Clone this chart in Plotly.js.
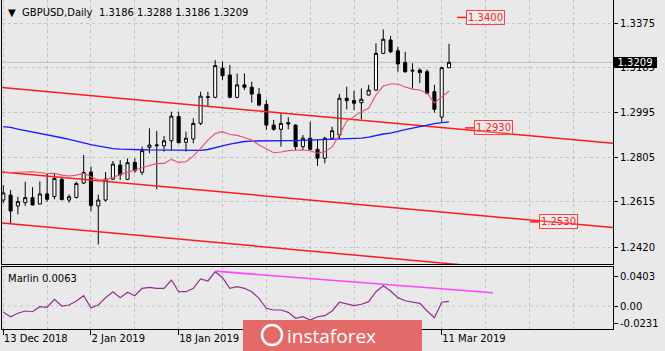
<!DOCTYPE html>
<html><head><meta charset="utf-8">
<script src="https://cdn.plot.ly/plotly-3.0.1.min.js"></script>
<style>html,body{margin:0;padding:0;background:#e9e9e9;}#chart{width:665px;height:351px;}</style>
</head><body><div id="chart"></div>
<script>
// ---------- DATA ----------
const symbol = 'GBPUSD,Daily';
const dates = ['2018-12-13','2018-12-14','2018-12-17','2018-12-18','2018-12-19','2018-12-20','2018-12-21','2018-12-24','2018-12-26','2018-12-27','2018-12-28','2018-12-31',
'2019-01-02','2019-01-03','2019-01-04','2019-01-07','2019-01-08','2019-01-09','2019-01-10','2019-01-11','2019-01-14','2019-01-15','2019-01-16','2019-01-17','2019-01-18',
'2019-01-21','2019-01-22','2019-01-23','2019-01-24','2019-01-25','2019-01-28','2019-01-29','2019-01-30','2019-01-31','2019-02-01',
'2019-02-04','2019-02-05','2019-02-06','2019-02-07','2019-02-08','2019-02-11','2019-02-12','2019-02-13','2019-02-14','2019-02-15',
'2019-02-18','2019-02-19','2019-02-20','2019-02-21','2019-02-22','2019-02-25','2019-02-26','2019-02-27','2019-02-28','2019-03-01',
'2019-03-04','2019-03-05','2019-03-06','2019-03-07','2019-03-08','2019-03-11','2019-03-12'];
const open  = [1.2623,1.2644,1.2598,1.2612,1.2633,1.2606,1.2649,1.2638,1.2711,1.2623,1.2634,1.2695,
1.2742,1.2598,1.2623,1.2712,1.2772,1.2711,1.2783,1.2741,1.2847,1.2854,1.2854,1.2875,1.2978,
1.2869,1.2883,1.2949,1.3059,1.3060,1.3184,1.3155,1.3060,1.3113,1.3103,
1.3073,1.3030,1.2942,1.2924,1.2952,1.2942,1.2850,1.2886,1.2839,1.2801,
1.2886,1.2900,1.3056,1.3046,1.3037,1.3070,1.3091,1.3247,1.3304,1.3258,
1.3208,1.3176,1.3176,1.3169,1.3084,1.2976,1.3186];
const high  = [1.2687,1.2666,1.2637,1.2701,1.2678,1.2702,1.2734,1.2734,1.2721,1.2647,1.2701,1.2815,
1.2765,1.2646,1.2742,1.2789,1.2793,1.2800,1.2800,1.2850,1.2928,1.2917,1.2895,1.2999,1.2999,
1.2914,1.2971,1.3084,1.3084,1.3219,1.3212,1.3198,1.3161,1.3162,1.3127,
1.3100,1.3049,1.2964,1.2992,1.2975,1.2945,1.2900,1.2956,1.2878,1.2892,
1.2935,1.3074,1.3105,1.3088,1.3098,1.3113,1.3290,1.3349,1.3321,1.3275,
1.3254,1.3205,1.3184,1.3179,1.3113,1.3190,1.3288];
const low   = [1.2610,1.2525,1.2562,1.2598,1.2600,1.2604,1.2616,1.2626,1.2621,1.2612,1.2630,1.2691,
1.2576,1.2434,1.2616,1.2708,1.2708,1.2708,1.2739,1.2729,1.2822,1.2669,1.2829,1.2836,1.2864,
1.2829,1.2864,1.2942,1.3023,1.3056,1.3134,1.3056,1.3056,1.3091,1.3037,
1.3022,1.2921,1.2918,1.2850,1.2924,1.2836,1.2836,1.2832,1.2768,1.2779,
1.2883,1.2883,1.3009,1.3006,1.2967,1.3068,1.3087,1.3244,1.3248,1.3169,
1.3164,1.3098,1.3120,1.3074,1.2995,1.2956,1.3186];
const close = [1.2653,1.2576,1.2616,1.2633,1.2602,1.2649,1.2626,1.2715,1.2625,1.2637,1.2693,1.2740,
1.2600,1.2623,1.2712,1.2776,1.2730,1.2782,1.2748,1.2833,1.2857,1.2857,1.2875,1.2980,1.2867,
1.2886,1.2949,1.3065,1.3062,1.3195,1.3152,1.3060,1.3113,1.3103,1.3074,
1.3027,1.2942,1.2924,1.2949,1.2947,1.2850,1.2886,1.2839,1.2801,1.2886,
1.2918,1.3056,1.3046,1.3035,1.3052,1.3091,1.3247,1.3307,1.3254,1.3202,
1.3169,1.3172,1.3165,1.3077,1.3009,1.3186,1.3209];
// moving averages
const maFast = [1.2739,1.2740,1.2741,1.2742,1.2743,1.2740,1.2736,1.2737,1.2729,1.2725,1.2729,1.2737,
1.2722,1.2708,1.2710,1.2719,1.2732,1.2742,1.2751,1.2761,1.2770,1.2778,1.2779,1.2796,1.2783,
1.2786,1.2810,1.2843,1.2878,1.2906,1.2914,1.2902,1.2898,1.2889,1.2878,
1.2857,1.2842,1.2824,1.2827,1.2833,1.2835,1.2836,1.2833,1.2822,1.2829,
1.2849,1.2900,1.2959,1.2978,1.2999,1.3013,1.3070,1.3108,1.3117,1.3117,
1.3104,1.3095,1.3091,1.3078,1.3036,1.3061,1.3087];
const maSlow = [1.2935,1.2932,1.2925,1.2919,1.2915,1.2908,1.2902,1.2895,1.2888,1.2881,1.2872,1.2866,
1.2859,1.2853,1.2846,1.2842,1.2840,1.2840,1.2839,1.2837,1.2836,1.2836,1.2835,1.2834,1.2833,
1.2833,1.2833,1.2834,1.2838,1.2844,1.2853,1.2861,1.2868,1.2872,1.2874,
1.2875,1.2876,1.2876,1.2876,1.2876,1.2876,1.2877,1.2877,1.2878,1.2878,
1.2879,1.2880,1.2881,1.2884,1.2886,1.2891,1.2898,1.2904,1.2908,1.2917,
1.2923,1.2929,1.2936,1.2942,1.2948,1.2952,1.2956];
const marlin = [-0.0085,-0.0144,-0.0098,-0.0067,-0.0077,-0.0009,-0.0017,0.0090,0.0000,0.0013,0.0067,0.0138,
-0.0023,0.0013,0.0112,0.0192,0.0112,0.0184,0.0138,0.0238,0.0251,0.0238,0.0238,0.0349,0.0192,
0.0192,0.0238,0.0363,0.0336,0.0461,0.0380,0.0238,0.0259,0.0238,0.0192,
0.0103,-0.0031,-0.0054,-0.0054,-0.0085,-0.0165,-0.0144,-0.0188,-0.0144,-0.0130,
-0.0067,0.0050,0.0023,0.0004,0.0023,0.0058,0.0192,0.0273,0.0201,0.0112,
0.0071,0.0058,0.0036,-0.0067,-0.0157,0.0050,0.0063];
// trend channel: price at anchor bars [0, 60]
const channelAnchorBars = [0, 60];
const channelUpper  = [1.3101, 1.2931];
const channelMiddle = [1.2742, 1.2572];
const channelLower  = [1.2525, 1.2355];
// horizontal price marks
const levelPrices = [1.3400, 1.2930, 1.2530];
// Marlin divergence line
const marlinTrendBars = [29, 67];
const marlinTrendValues = [0.0468, 0.0178];
// axis ticks
const priceTicks = [1.3375, 1.3185, 1.2995, 1.2805, 1.2615, 1.2420];
const marlinTicks = [0.0403, 0, -0.0231];
const marlinTickText = ['0.0403', '0.00', '-0.0231'];
const dateLabelDates = ['2018-12-13', '2019-01-02', '2019-01-18', '2019-03-11'];

// ---------- BUILD ----------
const N = dates.length;
const idx = dates.map((d, i) => i);
const XR = [-0.178, 83.44];
const gridTicks = []; for (let k = 0; k <= 84; k += 6) gridTicks.push(k);
const MON = ['Jan','Feb','Mar','Apr','May','Jun','Jul','Aug','Sep','Oct','Nov','Dec'];
function fmtDate(s){ const d = new Date(s + 'T00:00:00Z'); return d.getUTCDate() + ' ' + MON[d.getUTCMonth()] + ' ' + d.getUTCFullYear(); }
const dateTickVals = dateLabelDates.map(s => dates.indexOf(s));
const dateTickText = dateLabelDates.map(fmtDate);

function ray(p){ // extend channel line across the whole visible range
  const s = (p[1] - p[0]) / (channelAnchorBars[1] - channelAnchorBars[0]);
  const xs = [XR[0] - 1, XR[1] + 1];
  return {x: xs, y: xs.map(x => p[0] + s * (x - channelAnchorBars[0]))};
}
const RED = '#ff1a1a';
const traces = [];
[channelUpper, channelMiddle, channelLower].forEach(c => {
  const r = ray(c);
  traces.push({type:'scatter', mode:'lines', x:r.x, y:r.y, xaxis:'x', yaxis:'y', line:{color:RED, width:1.5}, hoverinfo:'skip'});
});
traces.push({type:'scatter', mode:'lines', x:idx, y:maSlow, xaxis:'x', yaxis:'y', line:{color:'#1a1aff', width:1.3}, hoverinfo:'skip'});
traces.push({type:'scatter', mode:'lines', x:idx, y:maFast, xaxis:'x', yaxis:'y', line:{color:'#e8506a', width:1.1}, hoverinfo:'skip'});
traces.push({type:'candlestick', x:idx, open:open, high:high, low:low, close:close, xaxis:'x', yaxis:'y',
  increasing:{line:{color:'#000', width:1}, fillcolor:'#ffffff'},
  decreasing:{line:{color:'#000', width:1}, fillcolor:'#000000'},
  whiskerwidth:0, hoverinfo:'skip'});
// price marks
const levelLabelAt = [62.1, 63.2, 72.1];
levelPrices.forEach((p, k) => {
  traces.push({type:'scatter', mode:'lines', x:[levelLabelAt[k], levelLabelAt[k] + 1.25], y:[p, p], xaxis:'x', yaxis:'y', line:{color:RED, width:1.5}, hoverinfo:'skip'});
});
// indicator
traces.push({type:'scatter', mode:'lines', x:idx, y:marlin, xaxis:'x2', yaxis:'y2', line:{color:'#93308f', width:1.2}, hoverinfo:'skip'});
traces.push({type:'scatter', mode:'lines', x:marlinTrendBars, y:marlinTrendValues, xaxis:'x3', yaxis:'y2', line:{color:'#ff44ff', width:1.6}, hoverinfo:'skip'});

const GRID = '#c2c2c2';
const last = N - 1;
const mainDom = [(329 - 264) / 329, 1];
const indDom = [0, (329 - 267) / 329];
const annotations = [
  {xref:'paper', yref:'paper', x:(6 - 2) / 611, y:1 - 12 / 329, xanchor:'left', yanchor:'middle', showarrow:false,
   text:'▼  ' + symbol + '  ' + [open[last], high[last], low[last], close[last]].map(v => v.toFixed(4)).join(' '), font:{size:10, color:'#000'}},
  {xref:'paper', yref:'paper', x:(6 - 2) / 611, y:(329 - 278) / 329, xanchor:'left', yanchor:'middle', showarrow:false,
   text:'Marlin ' + marlin[last].toFixed(4), font:{size:10, color:'#000'}},
  {xref:'paper', yref:'y', x:1, y:close[last], xanchor:'left', yanchor:'middle', showarrow:false,
   text:close[last].toFixed(4), font:{size:10, color:'#fff'}, bgcolor:'#000', width:44, height:11, borderpad:0, borderwidth:0},
  {xref:'paper', yref:'paper', x:(331 - 2) / 611, y:(329 - 335.5) / 329, xanchor:'center', yanchor:'middle', showarrow:false,
   text:'instaforex', font:{family:'Open Sans', size:19, color:'#ffffff'}}
];
levelPrices.forEach((p, k) => {
  annotations.push({xref:'x', yref:'y', x:levelLabelAt[k] + 1.25, y:p, xanchor:'left', yanchor:'middle', showarrow:false,
    text:p.toFixed(4), font:{size:10, color:'#ff2020'}, bordercolor:'#ff4040', borderwidth:1, borderpad:1, bgcolor:'rgba(255,255,255,0.2)'});
});
const shapes = [
  {type:'line', xref:'x domain', yref:'y', x0:0, x1:1, y0:close[last], y1:close[last], line:{color:'#bdbdbd', width:1}, layer:'below'},
  {type:'line', xref:'x2 domain', yref:'y2', x0:0, x1:1, y0:0, y1:0, line:{color:GRID, width:1, dash:'3px,3px'}, layer:'below'},
  {type:'rect', xref:'paper', yref:'paper', x0:(243 - 2) / 611, x1:(422 - 2) / 611, y0:(329 - 351) / 329, y1:(329 - 320) / 329,
   fillcolor:'#e46a6a', line:{width:0}, layer:'above'},
  {type:'circle', xref:'paper', yref:'paper', x0:(262 - 2) / 611, x1:(282 - 2) / 611, y0:(329 - 345) / 329, y1:(329 - 325) / 329,
   fillcolor:'rgba(255,255,255,0)', line:{color:'#ffffff', width:2.5}, layer:'above'}
];

const layout = {
  width:665, height:351, margin:{l:2, r:52, t:0, b:22, pad:0},
  paper_bgcolor:'#e9e9e9', plot_bgcolor:'#e9e9e9', showlegend:false,
  font:{family:'DejaVu Sans', size:10, color:'#000'},
  boxgap:0.4,
  xaxis:{domain:[0,1], anchor:'y', range:XR, tickvals:gridTicks, showticklabels:false, ticks:'',
    showgrid:true, gridcolor:GRID, griddash:'3px,3px', gridwidth:1, zeroline:false,
    showline:true, linecolor:'#000', linewidth:1, mirror:false, rangeslider:{visible:false}, fixedrange:true},
  yaxis:{domain:mainDom, anchor:'x', side:'right', range:[1.235075, 1.347415], tickvals:priceTicks,
    ticktext:priceTicks.map(v => v.toFixed(4)), ticks:'outside', ticklen:4, tickcolor:'#000',
    showgrid:true, gridcolor:GRID, griddash:'3px,3px', zeroline:false, showline:true, mirror:true, linecolor:'#000', linewidth:1, fixedrange:true},
  xaxis2:{domain:[0,1], anchor:'y2', range:XR, tickvals:gridTicks, showticklabels:false, ticks:'',
    showgrid:true, gridcolor:GRID, griddash:'3px,3px', zeroline:false, showline:true, mirror:true, linecolor:'#000', linewidth:1, fixedrange:true},
  xaxis3:{overlaying:'x2', anchor:'y2', side:'bottom', range:XR, tickvals:dateTickVals, ticktext:dateTickText,
    ticks:'outside', ticklen:5, tickcolor:'#000', ticklabelposition:'outside right', showgrid:false, zeroline:false, showline:false, fixedrange:true},
  yaxis2:{domain:indDom, anchor:'x2', side:'right', range:[-0.0309, 0.0524], tickvals:marlinTicks, ticktext:marlinTickText,
    ticks:'outside', ticklen:4, tickcolor:'#000', showgrid:false, zeroline:false, showline:true, mirror:true, linecolor:'#000', linewidth:1, fixedrange:true},
  annotations:annotations, shapes:shapes
};
Plotly.newPlot('chart', traces, layout, {staticPlot:true, displayModeBar:false});
</script></body></html>
